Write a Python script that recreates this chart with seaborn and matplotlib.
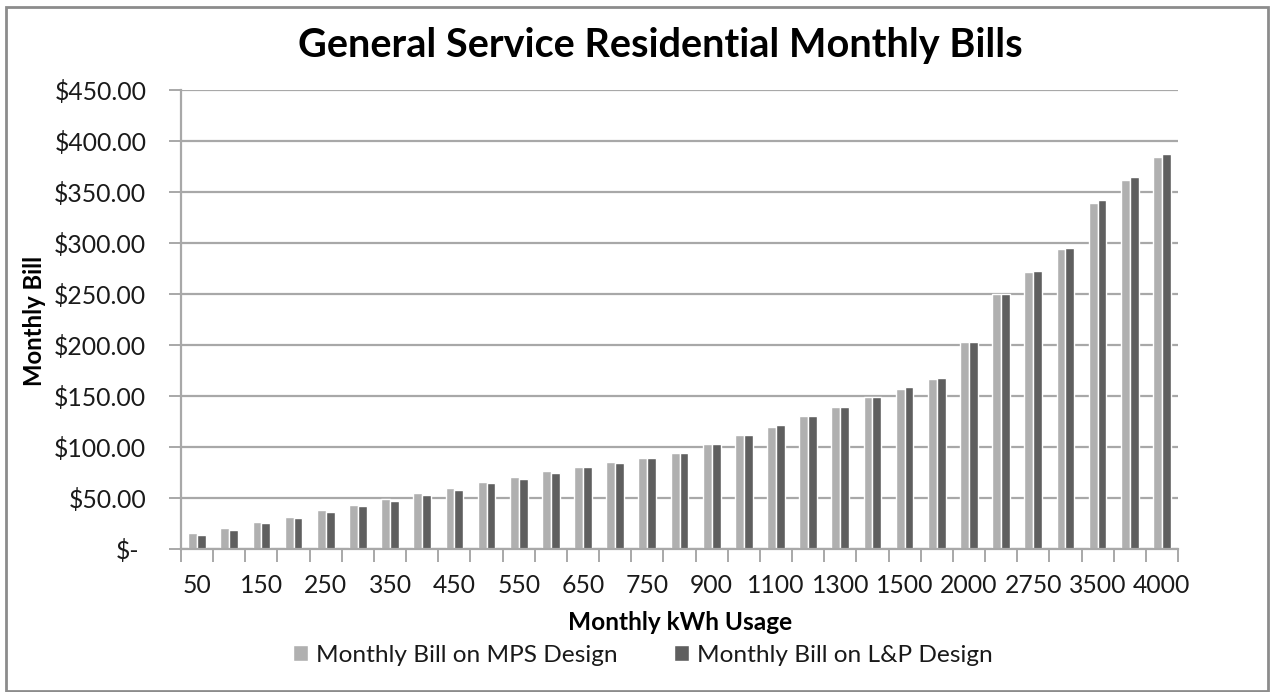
import numpy as np
import pandas as pd
import matplotlib
matplotlib.use("Agg")
import matplotlib.pyplot as plt
from matplotlib.patches import Rectangle
from matplotlib.ticker import FuncFormatter
from matplotlib.transforms import ScaledTranslation
import seaborn as sns

# Monthly kWh usage levels
usage_kwh = [50, 100, 150, 200, 250, 300, 350, 400, 450, 500, 550, 600, 650, 700,
             750, 800, 900, 1000, 1100, 1200, 1300, 1400, 1500, 1600, 2000, 2500,
             2750, 3000, 3500, 3750, 4000]

# Monthly bill ($) under each rate design
bill_mps = [15.7, 20.6, 26.9, 32.1, 38.3, 43.2, 49.1, 54.7, 59.6, 65.8, 70.4, 76.5,
            80.8, 85.7, 89.3, 94.1, 103.3, 111.7, 120.2, 130.6, 139.8, 148.9, 157.1,
            166.9, 203.5, 249.8, 271.4, 293.9, 339.3, 362.2, 384.7]
bill_lp = [14.4, 19.3, 25.5, 30.8, 37.0, 42.3, 47.2, 53.4, 58.3, 64.5, 69.1, 74.3,
           80.8, 84.4, 89.3, 94.1, 103.3, 111.7, 121.8, 130.6, 139.8, 148.9, 158.7,
           167.5, 203.5, 249.8, 272.7, 295.6, 341.9, 364.5, 387.0]

series_names = ["Monthly Bill on MPS Design", "Monthly Bill on L&P Design"]
y_ticks = [0, 50, 100, 150, 200, 250, 300, 350, 400, 450]

df = pd.DataFrame({
    "usage": [str(u) for u in usage_kwh] * 2,
    "bill": bill_mps + bill_lp,
    "design": [series_names[0]] * len(usage_kwh) + [series_names[1]] * len(usage_kwh),
})

sns.set_theme(style="white")
plt.rcParams["font.family"] = ["Lato", "DejaVu Sans"]

LIGHT = "#b0b0b0"
DARK = "#5f5f5f"
GRID = "#a8a8a8"
TEXT = "#1a1a1a"

fig = plt.figure(figsize=(12.7, 6.92), dpi=100)
ax = fig.add_axes([181 / 1270, 142.7 / 692, 997 / 1270, 459.3 / 692])

order = [str(u) for u in usage_kwh]
sns.barplot(data=df, x="usage", y="bill", hue="design", order=order,
            hue_order=series_names, palette=[LIGHT, DARK], width=0.55,
            saturation=1, ax=ax, legend=True)

n = len(usage_kwh)
ax.set_xlim(-0.5, n - 0.5)
ax.set_ylim(0, 450)

# y axis: currency labels, outward ticks, horizontal gridlines
ax.set_yticks(y_ticks)
ax.yaxis.set_major_formatter(FuncFormatter(lambda v, p: "$-" if v == 0 else f"${v:,.2f}"))
ax.yaxis.grid(True, color=GRID, linewidth=1.6)
ax.set_axisbelow(True)
ax.tick_params(axis="y", which="major", left=True, length=9, width=1.4, color=GRID,
               pad=16, labelsize=17.8, labelcolor=TEXT)

# x axis: every other category labelled, tick marks between groups
ax.set_xticks(np.arange(0, n, 2))
ax.set_xticklabels([order[i] for i in range(0, n, 2)])
ax.set_xticks(np.arange(-0.5, n, 1), minor=True)
ax.tick_params(axis="x", which="major", bottom=True, length=0, pad=18,
               labelsize=17.8, labelcolor=TEXT)
ax.tick_params(axis="x", which="minor", bottom=True, length=9, width=1.4, color=GRID)

for side in ["top", "right"]:
    ax.spines[side].set_visible(False)
for side in ["left", "bottom"]:
    ax.spines[side].set_color(GRID)
    ax.spines[side].set_linewidth(1.6)

ax.set_xlabel("")
ax.set_ylabel("")

# shift the zero label left, accounting-style
fig.canvas.draw()
zero_label = ax.get_yticklabels()[0]
zero_label.set_transform(zero_label.get_transform() + ScaledTranslation(-0.07, 0, fig.dpi_scale_trans))

handles, labels = ax.get_legend_handles_labels()
ax.get_legend().remove()
fig.legend(handles, labels, loc="center", bbox_to_anchor=(643 / 1270, 1 - 655 / 692),
           ncol=2, frameon=False, fontsize=17.6, handlelength=0.6, handleheight=0.6,
           handletextpad=0.35, columnspacing=2.3, labelcolor=TEXT)

fig.text(660 / 1270, 1 - 45 / 692, "General Service Residential Monthly Bills",
         ha="center", va="center", fontsize=28.5, fontweight="bold", color="black")
fig.text(680 / 1270, 1 - 623 / 692, "Monthly kWh Usage", ha="center", va="center",
         fontsize=17.6, fontweight="bold", color="black")
fig.text(34 / 1270, 1 - 321 / 692, "Monthly Bill", ha="center", va="center",
         rotation=90, fontsize=17.2, fontweight="bold", color="black")

# chart border
fig.patches.append(Rectangle((6 / 1270, 1 / 692), 1262 / 1270, 684 / 692,
                             transform=fig.transFigure, fill=False,
                             edgecolor="#8c8c8c", linewidth=2))

fig.savefig("out.png", dpi=100, facecolor="white")
